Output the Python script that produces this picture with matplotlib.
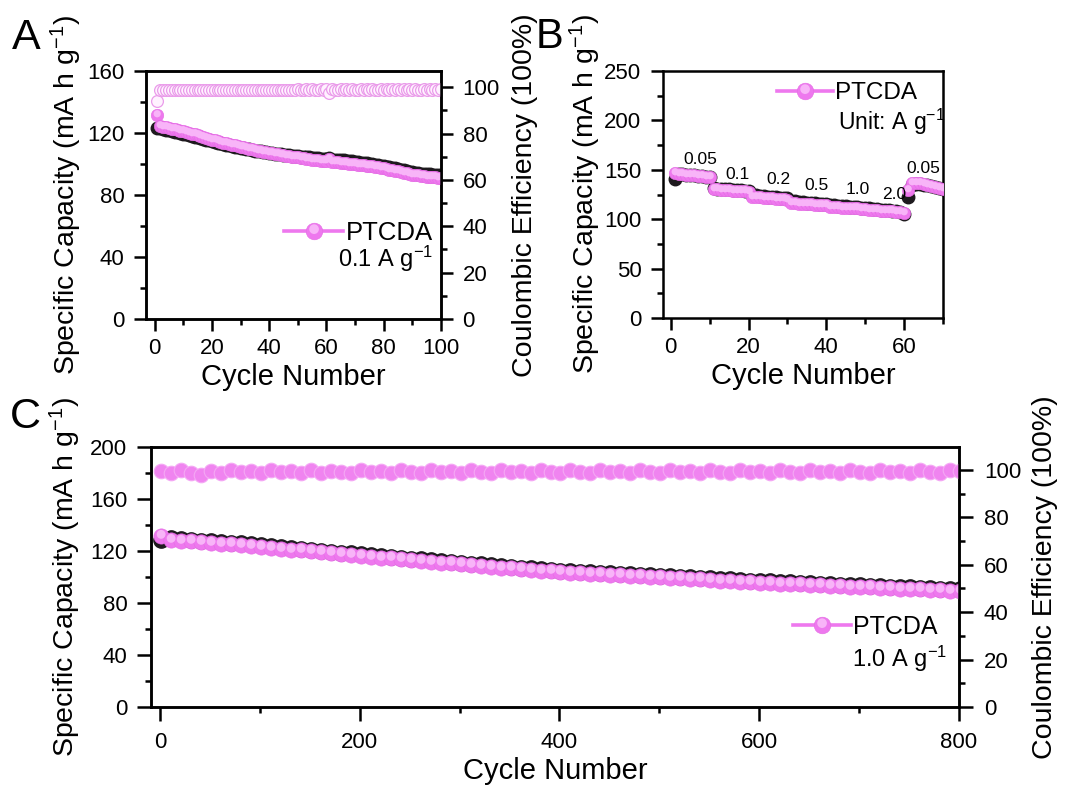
import numpy as np
from matplotlib import pyplot as plt
from matplotlib.path import Path
from matplotlib.lines import Line2D
from matplotlib.ticker import MultipleLocator
from matplotlib.legend_handler import HandlerTuple

plt.rcParams["font.family"] = ["Liberation Sans", "DejaVu Sans"]
plt.rcParams["mathtext.fontset"] = "custom"
plt.rcParams["mathtext.rm"] = "Liberation Sans"
plt.rcParams["mathtext.default"] = "regular"

# ---- panel A: 0.1 A/g, 100 cycles ----
A_cycles = np.arange(1, 101)
A_discharge = [
    131.5, 124.5, 124.0, 123.6, 123.2, 122.8, 122.3, 121.9, 121.5, 121.0,
    120.6, 120.2, 119.6, 119.1, 118.5, 118.0, 117.4, 116.9, 116.3, 115.8,
    115.3, 114.8, 114.3, 113.8, 113.3, 112.9, 112.4, 112.0, 111.5, 111.1,
    110.7, 110.3, 109.9, 109.5, 109.1, 108.7, 108.4, 108.0, 107.7, 107.3,
    107.0, 106.7, 106.3, 106.0, 105.7, 105.4, 105.1, 104.8, 104.5, 104.2,
    104.0, 103.7, 103.4, 103.2, 102.9, 102.7, 102.4, 102.2, 102.0, 101.8,
    103.0, 101.4, 101.2, 101.0, 100.8, 100.6, 100.4, 100.2, 100.0, 99.8,
    99.6, 99.4, 99.2, 99.0, 98.7, 98.4, 98.1, 97.8, 97.5, 97.1,
    96.8, 96.4, 96.0, 95.6, 95.2, 94.8, 94.4, 94.0, 93.6, 93.2,
    92.9, 92.6, 92.3, 92.0, 91.8, 91.6, 91.4, 91.3, 91.2, 91.1,
]
A_charge = [
    123.4, 123.0, 122.6, 122.2, 121.8, 121.3, 120.9, 120.4, 120.0, 119.6,
    119.1, 118.7, 118.2, 117.7, 117.2, 116.7, 116.2, 115.7, 115.2, 114.7,
    114.2, 113.8, 113.3, 112.9, 112.4, 112.0, 111.6, 111.2, 110.8, 110.4,
    110.1, 109.7, 109.4, 109.0, 108.7, 108.4, 108.1, 107.8, 107.5, 107.2,
    107.0, 106.7, 106.5, 106.2, 106.0, 105.8, 105.6, 105.4, 105.2, 105.0,
    104.8, 104.6, 104.4, 104.2, 104.0, 103.8, 103.6, 103.4, 103.2, 103.1,
    103.6, 102.9, 102.7, 102.6, 102.4, 102.3, 102.1, 102.0, 101.8, 101.5,
    101.0, 100.8, 100.6, 100.4, 100.1, 99.8, 99.5, 99.2, 98.9, 98.6,
    98.3, 97.9, 97.5, 97.1, 96.7, 96.3, 95.9, 95.5, 95.1, 94.7,
    94.4, 94.1, 93.8, 93.6, 93.4, 93.3, 93.2, 93.1, 93.0, 93.0,
]
A_ce = [
    94.0, 98.6, 98.8, 98.7, 98.9, 98.8, 98.7, 98.9, 98.8, 98.8,
    98.9, 98.7, 98.8, 98.9, 98.8, 98.7, 98.8, 98.9, 98.8, 98.8,
    98.9, 98.7, 98.8, 98.8, 98.9, 98.8, 98.7, 98.9, 98.8, 98.8,
    98.9, 98.8, 98.7, 98.8, 98.9, 98.8, 98.8, 98.9, 98.7, 98.8,
    98.9, 98.8, 99.0, 98.8, 98.9, 98.7, 99.0, 98.8, 98.9, 99.1,
    98.8, 98.9, 99.1, 98.9, 99.2, 98.8, 99.0, 99.1, 98.9, 99.1,
    97.3, 99.2, 99.0, 98.9, 99.2, 99.0, 99.1, 98.9, 99.2, 99.0,
    98.9, 99.1, 99.0, 99.2, 98.9, 99.1, 99.0, 98.8, 99.2, 99.0,
    99.1, 98.8, 99.2, 99.0, 99.3, 98.9, 99.1, 98.7, 99.2, 99.0,
    99.3, 98.9, 99.0, 99.2, 98.8, 99.1, 98.9, 99.2, 99.0, 99.1,
]

# ---- panel B: rate test ----
B_cycles = np.arange(1, 71)
B_discharge = [
    146.5, 146.0, 145.6, 145.2, 144.8, 144.4, 144.0, 143.6, 143.2, 142.8,
    130.5, 130.2, 129.9, 129.6, 129.3, 129.0, 128.7, 128.4, 128.1, 127.8,
    122.6, 122.3, 122.0, 121.7, 121.4, 121.1, 120.8, 120.5, 120.2, 119.9,
    116.4, 116.1, 115.8, 115.6, 115.3, 115.1, 114.8, 114.6, 114.3, 114.1,
    112.4, 112.2, 112.0, 111.8, 111.6, 111.4, 111.2, 111.0, 110.8, 110.6,
    109.8, 109.4, 109.1, 108.8, 108.5, 108.2, 107.9, 107.6, 107.4, 106.5,
    129.5, 136.5, 136.8, 136.2, 135.5, 134.6, 133.6, 132.6, 131.6, 130.6,
]
B_charge = [
    140.5, 145.8, 145.5, 145.1, 144.7, 144.3, 143.9, 143.5, 143.1, 142.7,
    131.8, 131.0, 130.7, 130.4, 130.1, 129.8, 129.5, 129.2, 128.9, 128.6,
    124.8, 124.2, 123.7, 123.3, 122.9, 122.5, 122.1, 121.7, 121.4, 121.0,
    118.6, 118.0, 117.5, 117.1, 116.7, 116.3, 115.9, 115.6, 115.3, 115.0,
    114.5, 114.0, 113.6, 113.2, 112.9, 112.6, 112.3, 112.0, 111.7, 111.4,
    111.6, 110.8, 110.2, 109.7, 109.3, 108.9, 108.5, 108.1, 107.7, 105.5,
    122.0, 134.5, 136.0, 135.7, 135.0, 134.2, 133.3, 132.4, 131.5, 130.6,
]
B_rates = ["0.05", "0.1", "0.2", "0.5", "1.0", "2.0", "0.05"]
B_rate_x = [7.5, 17.2, 27.6, 37.4, 48.0, 57.5, 65.0]
B_rate_y = [160, 145, 140, 134, 130, 125, 151]

# ---- panel C: 1.0 A/g, 800 cycles (every 10th cycle) ----
C_cycles = np.arange(1, 802, 10)
C_discharge = [
    131.5, 128.8, 128.0, 127.4, 126.8, 126.2, 125.7, 125.2, 124.6, 123.9,
    123.2, 122.5, 121.8, 121.1, 120.4, 119.7, 119.0, 118.3, 117.6, 116.9,
    116.2, 115.6, 114.9, 114.3, 113.6, 113.0, 112.3, 111.7, 111.0, 110.4,
    109.7, 109.1, 108.5, 107.8, 107.2, 106.6, 106.0, 105.4, 104.8, 104.3,
    103.8, 103.3, 102.9, 102.5, 102.1, 101.7, 101.3, 100.9, 100.5, 100.1,
    99.7, 99.3, 98.9, 98.5, 98.1, 97.7, 97.3, 96.9, 96.5, 96.1,
    95.7, 95.4, 95.0, 94.7, 94.3, 94.0, 93.6, 93.3, 92.9, 92.6,
    92.3, 92.0, 91.7, 91.4, 91.1, 90.8, 90.5, 90.2, 89.9, 89.6,
    89.3,
]
C_charge = [
    128.5, 130.0, 129.2, 128.6, 128.0, 127.4, 126.9, 126.4, 125.8, 125.1,
    124.4, 123.7, 123.0, 122.3, 121.6, 120.9, 120.2, 119.5, 118.8, 118.1,
    117.4, 116.8, 116.1, 115.5, 114.8, 114.2, 113.5, 112.9, 112.2, 111.6,
    110.9, 110.3, 109.7, 109.0, 108.4, 107.8, 107.2, 106.6, 106.0, 105.5,
    105.0, 104.5, 104.1, 103.7, 103.3, 102.9, 102.5, 102.1, 101.7, 101.3,
    100.9, 100.5, 100.1, 99.7, 99.3, 98.9, 98.5, 98.1, 97.7, 97.3,
    96.9, 96.6, 96.2, 95.9, 95.5, 95.2, 94.8, 94.5, 94.1, 93.8,
    93.5, 93.2, 92.9, 92.6, 92.3, 92.0, 91.7, 91.4, 91.1, 90.8,
    90.5,
]
C_ce = [
    99.5, 98.6, 100.0, 98.9, 97.7, 99.4, 98.7, 99.8, 99.0, 99.6,
    98.7, 100.0, 99.0, 99.4, 98.6, 99.8, 98.9, 99.6, 99.2, 98.7,
    100.0, 99.0, 99.6, 98.6, 99.8, 99.2, 98.9, 100.0, 99.0, 99.4,
    98.7, 99.8, 99.2, 98.9, 100.0, 99.0, 99.6, 98.7, 99.8, 99.2,
    98.9, 100.0, 99.2, 98.7, 99.8, 99.0, 99.6, 98.9, 100.0, 99.2,
    98.7, 99.8, 99.0, 99.6, 98.9, 100.0, 99.2, 98.7, 99.8, 99.0,
    99.6, 98.9, 100.0, 99.2, 98.7, 99.8, 99.0, 99.6, 98.9, 100.0,
    99.2, 98.7, 99.8, 99.0, 99.6, 98.9, 100.0, 99.2, 98.7, 99.8,
    99.4,
]

PINK = "#EE78EE"
PINK_EDGE = "#E46CE4"
PINK_LIGHT = "#F8B4F8"
DARK = "#1E1A1E"

# light disc in the upper part of each ball (3D look)
_hl = Path.circle(center=(-0.05, 0.28), radius=0.58)
HIGHLIGHT = Path(np.vstack([[[-1.0, -1.0], [1.0, 1.0]], _hl.vertices]),
                 np.concatenate([[Path.MOVETO, Path.MOVETO], _hl.codes]))


def px_axes(fig, left, top, right, bottom):
    W, H = 1072, 796
    return fig.add_axes([left / W, 1 - bottom / H, (right - left) / W, (bottom - top) / H])


def style_axis(ax, major=8.5, minor=4.5):
    for s in ax.spines.values():
        s.set_linewidth(1.8)
    ax.tick_params(which="both", direction="out", width=1.8, labelsize=16)
    ax.tick_params(which="major", length=major)
    ax.tick_params(which="minor", length=minor)
    ax.tick_params(axis="x", pad=5)
    ax.tick_params(axis="y", pad=7)


def balls(ax, x, y, size, z=3):
    ax.plot(x, y, ls="none", marker="o", ms=size, mfc=PINK, mec=PINK_EDGE, mew=0.4, zorder=z)
    ax.plot(x, y, ls="none", marker=HIGHLIGHT, ms=size, mfc=PINK_LIGHT, mec="none", zorder=z + 0.1)


def legend_handle(size):
    base = Line2D([], [], color=PINK, lw=2.6, marker="o", ms=size, mfc=PINK, mec=PINK_EDGE, mew=0.4)
    hl = Line2D([], [], ls="none", marker=HIGHLIGHT, ms=size, mfc=PINK_LIGHT, mec="none")
    return (base, hl)


def add_legend(ax, anchor, size):
    ax.legend(handles=[legend_handle(12)], labels=["PTCDA"],
              handler_map={tuple: HandlerTuple(ndivide=1)},
              loc="center right", bbox_to_anchor=anchor, frameon=False,
              fontsize=size, handlelength=2.3, handletextpad=0.1,
              borderpad=0, borderaxespad=0)


fig = plt.figure(figsize=(10.72, 7.96), dpi=100)

# panel A
axA = px_axes(fig, 146, 71, 441, 319)
axA.plot(A_cycles, A_charge, ls="none", marker="o", ms=9, mfc=DARK, mec=DARK, zorder=2)
balls(axA, A_cycles, A_discharge, 9)
axA.set_xlim(-3, 100)
axA.set_ylim(0, 160)
axA.xaxis.set_major_locator(MultipleLocator(20))
axA.xaxis.set_minor_locator(MultipleLocator(10))
axA.yaxis.set_major_locator(MultipleLocator(40))
axA.yaxis.set_minor_locator(MultipleLocator(20))
style_axis(axA)
axA.set_xlabel("Cycle Number", fontsize=21, labelpad=3)
axA.set_ylabel("Specific Capacity (mA h g$^{-1}$)", fontsize=20.5, labelpad=2)
add_legend(axA, (0.973, 0.345), 18.5)
axA.text(0.973, 0.212, "0.1 A g$^{-1}$", transform=axA.transAxes, ha="right",
         va="baseline", fontsize=17)

axA2 = axA.twinx()
axA2.plot(A_cycles, A_ce, ls="none", marker="o", ms=8.5, mfc="#FFF2FF", mec="#EA9CEA", mew=0.9)
axA2.set_ylim(0, 107)
axA2.yaxis.set_major_locator(MultipleLocator(20))
axA2.yaxis.set_minor_locator(MultipleLocator(10))
style_axis(axA2)
axA2.set_ylabel("Coulombic Efficiency (100%)", fontsize=20.5, labelpad=9)

# panel B
axB = px_axes(fig, 663, 71, 943, 318)
axB.plot(B_cycles, B_charge, ls="none", marker="o", ms=9, mfc=DARK, mec=DARK, zorder=2)
balls(axB, B_cycles, B_discharge, 9)
for r, x, y in zip(B_rates, B_rate_x, B_rate_y):
    axB.text(x, y, r, ha="center", va="center", fontsize=12.5)
axB.set_xlim(-2, 70)
axB.set_ylim(0, 250)
axB.xaxis.set_major_locator(MultipleLocator(20))
axB.xaxis.set_minor_locator(MultipleLocator(10))
axB.yaxis.set_major_locator(MultipleLocator(50))
axB.yaxis.set_minor_locator(MultipleLocator(25))
style_axis(axB)
axB.set_xlabel("Cycle Number", fontsize=21, labelpad=3)
axB.set_ylabel("Specific Capacity (mA h g$^{-1}$)", fontsize=20.5, labelpad=1)
add_legend(axB, (0.907, 0.91), 17.5)
axB.text(0.625, 0.761, "Unit: A g$^{-1}$", transform=axB.transAxes, ha="left",
         va="baseline", fontsize=16.5)

# panel C
axC = px_axes(fig, 151, 447, 959, 707)
axC.plot(C_cycles, C_charge, ls="none", marker="o", ms=11, mfc=DARK, mec=DARK, zorder=2)
balls(axC, C_cycles, C_discharge, 11)
axC.set_xlim(-9, 800)
axC.set_ylim(0, 200)
axC.xaxis.set_major_locator(MultipleLocator(200))
axC.xaxis.set_minor_locator(MultipleLocator(100))
axC.yaxis.set_major_locator(MultipleLocator(40))
axC.yaxis.set_minor_locator(MultipleLocator(20))
style_axis(axC, major=10, minor=4.5)
axC.tick_params(axis="x", pad=8)
axC.set_xlabel("Cycle Number", fontsize=21, labelpad=3)
axC.set_ylabel("Specific Capacity (mA h g$^{-1}$)", fontsize=20.5, labelpad=5)
add_legend(axC, (0.974, 0.308), 18)
axC.text(0.985, 0.155, "1.0 A g$^{-1}$", transform=axC.transAxes, ha="right",
         va="baseline", fontsize=17)

axC2 = axC.twinx()
axC2.plot(C_cycles, C_ce, ls="none", marker="o", ms=10.5, mfc="#F084F0", mec="#F4A8F4", mew=0.8)
axC2.set_ylim(0, 109.7)
axC2.yaxis.set_major_locator(MultipleLocator(20))
axC2.yaxis.set_minor_locator(MultipleLocator(10))
style_axis(axC2, major=10, minor=4.5)
axC2.tick_params(axis="y", pad=8)
axC2.set_ylabel("Coulombic Efficiency (100%)", fontsize=20.5, labelpad=8)

# panel letters
fig.text(12 / 1072, 1 - 18 / 796, "A", fontsize=31, ha="left", va="top")
fig.text(536 / 1072, 1 - 17 / 796, "B", fontsize=30, ha="left", va="top")
fig.text(10 / 1072, 1 - 397 / 796, "C", fontsize=31, ha="left", va="top")

fig.savefig("out.png", dpi=100)
